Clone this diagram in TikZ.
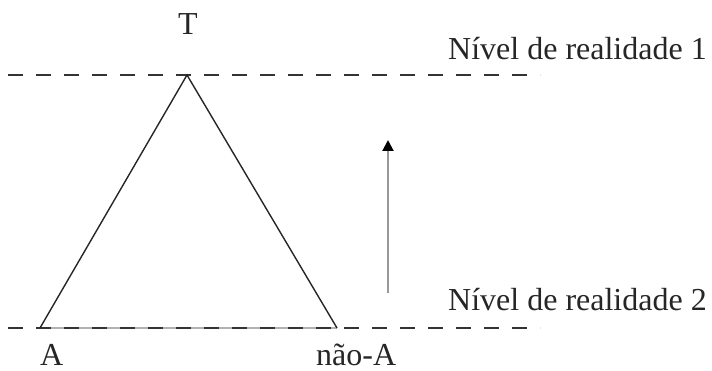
\documentclass[tikz,border=0pt]{standalone}
\usepackage{fontspec}
\setmainfont{Liberation Serif}
\usetikzlibrary{arrows.meta}
\begin{document}
\begin{tikzpicture}[x=1pt,y=-1pt,
  level/.style={draw=black!80,line width=1.4pt,dash pattern=on 15pt off 13pt},
  tri/.style={draw=black!85,line width=1.4pt,line join=miter},
  lbl/.style={font=\fontsize{32}{36}\selectfont,inner sep=0pt,text=black!85},
  up/.style={draw=black!40,line width=2pt,-{Triangle[length=11pt,width=11pt,color=black]}}]
\useasboundingbox (0,0) rectangle (712,371);
\coordinate (L1a) at (8,75);
\coordinate (L1b) at (540,75);
\coordinate (L2a) at (8,328);
\coordinate (L2b) at (540,328);
\coordinate (T) at (187,75);
\coordinate (A) at (40,328);
\coordinate (N) at (337,328);
\coordinate (Ab) at (388,293);
\coordinate (At) at (388,140);
\draw[draw=black!30,line width=2.2pt] (A) -- (N);
\draw[level] (L1a) -- (L1b);
\draw[level] (L2a) -- (L2b);
\draw[tri] (A) -- (T) -- (N);
\draw[up] (Ab) -- (At);
\node[lbl,anchor=base] (tl) at (188,35) {T};
\node[lbl,anchor=base west] (n1) at (448,60) {Nível de realidade 1};
\node[lbl,anchor=base west] (n2) at (448,310) {Nível de realidade 2};
\node[lbl,anchor=base west] (al) at (40,365) {A};
\node[lbl,anchor=base west] (nl) at (316,365) {não-A};
\end{tikzpicture}
\end{document}
